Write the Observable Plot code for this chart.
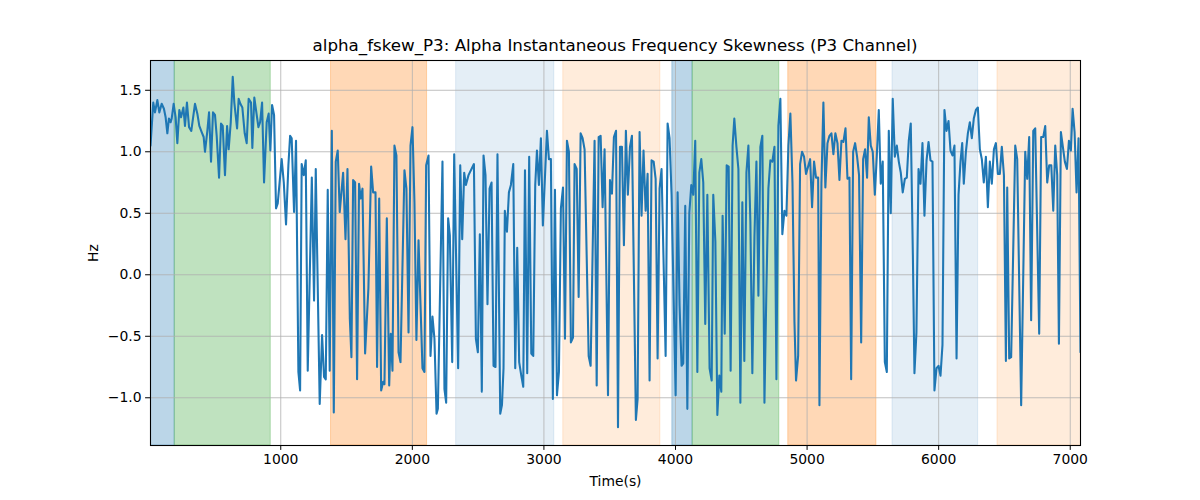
<!DOCTYPE html>
<html>
<head>
<meta charset="utf-8">
<script src="https://cdn.jsdelivr.net/npm/d3@7"></script>
<script src="https://cdn.jsdelivr.net/npm/@observablehq/plot@0.6"></script>
<style>
  html, body { margin: 0; padding: 0; background: white; }
  #title {
    box-sizing: border-box; height: 56px; width: 930px; margin-left: 150px;
    padding-top: 35px; line-height: 20px; text-align: center;
    font-family: "DejaVu Sans", sans-serif; font-size: 16.7px; color: #000;
    white-space: nowrap;
  }
</style>
</head>
<body>
<div id="title">alpha_fskew_P3: Alpha Instantaneous Frequency Skewness (P3 Channel)</div>
<div id="chart"></div>
<script>
// Time (s) of each sample
const times = [10,31,44,62,77,95,112,125,138,150,163,171,186,201,214,229,242,260,272,287,303,320,348,366,381,399,414,424,442,455,470,485,500,513,531,546,559,576,592,604,620,635,647,668,680,693,708,726,741,756,774,784,799,830,843,858,873,893,908,
921,934,949,964,977,1007,1023,1040,1058,1071,1083,1101,1116,1134,1147,1159,1175,1190,1205,1236,1253,1266,1296,1314,1329,1342,1357,1372,1388,1403,1418,1433,1448,1474,1492,1507,1525,1537,1550,1565,1580,1595,1608,1621,1641,1666,1687,1702,1720,1732,1748,1763,1778,1788,
1806,1824,1836,1849,1864,1879,1895,1910,1940,1955,1971,1986,2001,2016,2031,2047,2077,2092,2105,2123,2138,2153,2168,2184,2194,2229,2244,2257,2272,2285,2303,2318,2348,2364,2379,2394,2407,2427,2468,2483,2498,2513,2528,2541,2556,2571,2587,2602,2617,2632,2647,
2668,2681,2693,2703,2719,2734,2749,2767,2782,2797,2812,2828,2843,2856,2873,2888,2904,2919,2934,2947,2962,2977,2992,3023,3038,3053,3068,3084,3099,3114,3129,3145,3160,3175,3190,3205,3221,3233,3249,3264,3279,3294,3309,3340,3355,3385,3401,3416,3431,3446,3461,3487,3502,3517,3532,3548,3563,3578,
3593,3608,3623,3638,3654,3669,3699,3712,3727,3742,3757,3773,3788,3803,3818,3834,3849,3864,3879,3894,3925,3940,3955,3970,4001,4016,4031,4046,4059,4074,4090,4105,4120,4135,4150,4166,4181,4196,4211,4226,4242,4259,4275,4287,4303,4318,4333,4348,4358,4374,4389,4404,4419,4434,4447,
4463,4478,4493,4508,4523,4539,4554,4569,4584,4600,4615,4630,4645,4660,4676,4691,4706,4721,4736,4752,4767,4782,4797,4812,4828,4843,4858,4873,4889,4904,4916,4932,4947,4962,4977,4992,5008,5023,5038,5053,5068,5084,5094,5109,5124,5139,5155,5170,5185,5200,5215,5231,5246,5261,5276,5292,5307,
5322,5335,5350,5365,5380,5395,5411,5426,5441,5456,5469,5484,5499,5515,5530,5545,5560,5575,5591,5606,5621,5636,5651,5667,5682,5697,5712,5727,5743,5758,5773,5788,5804,5816,5831,5847,5862,5877,5892,5908,5923,5938,5953,5968,5984,5999,6014,6029,6044,6060,6075,6090,6105,6120,6136,6151,6166,6179,6191,
6207,6222,6237,6252,6267,6283,6298,6313,6328,6343,6359,6374,6389,6404,6420,6435,6450,6465,6480,6496,6511,6521,6536,6551,6582,6597,6627,6658,6673,6688,6703,6719,6734,6764,6779,6795,6810,6825,6840,6856,6871,6886,6901,6914,6929,6944,6959,6975,6990,7005,7018,7033,7048,7063,7078];

// Skewness (Hz) of each sample
const values = [1.05,1.40,1.32,1.42,1.32,1.39,1.35,1.28,1.15,1.27,1.24,1.27,1.39,1.28,1.07,1.34,1.28,1.36,1.21,1.40,1.20,1.17,1.39,1.31,1.21,1.16,1.12,1.00,1.17,1.32,0.92,1.32,1.30,1.13,0.79,1.23,1.21,0.81,1.21,1.02,1.24,1.61,1.40,1.19,1.43,1.39,1.36,1.15,1.07,1.43,1.40,1.03,1.44,1.20,1.24,1.40,0.75,1.24,1.31,
1.01,1.38,1.30,0.54,0.58,0.94,0.75,0.41,0.89,1.13,1.11,0.51,1.09,-0.79,-0.94,0.90,0.81,0.93,-0.78,0.79,-0.21,0.86,-1.05,-0.49,-0.83,-0.85,0.69,-0.78,1.17,-1.12,0.92,1.01,0.51,0.83,0.29,0.86,-0.36,-0.67,0.77,0.75,-0.85,0.74,0.62,0.70,-0.64,-0.11,0.88,0.67,0.67,-0.75,0.62,-0.94,-0.87,-0.89,
0.46,-0.90,-0.48,-0.78,1.05,0.97,-0.63,-0.71,0.85,0.70,-0.47,1.05,1.20,0.59,-0.53,0.28,-0.76,-0.79,0.89,0.97,-0.66,-0.34,-0.52,-1.13,-1.09,0.92,-0.93,-1.04,0.46,0.32,-0.71,0.98,-0.76,0.89,0.29,0.83,0.73,0.81,0.90,-0.52,-0.63,0.33,-0.95,0.97,0.81,-0.24,0.70,0.75,-0.74,-0.75,0.98,
-1.13,-1.06,-0.76,0.52,0.35,0.67,0.73,0.90,-0.76,0.22,-0.71,-0.82,-0.91,0.85,-0.80,0.96,-0.64,-0.66,0.73,1.01,0.73,1.11,0.40,1.17,0.94,0.94,-1.01,0.69,-0.98,-0.79,0.54,0.71,-0.52,1.09,1.00,-0.55,-0.51,0.90,0.86,-0.18,1.15,1.11,1.02,-0.66,-0.74,1.09,-0.90,1.12,1.13,0.55,1.02,-0.98,0.77,0.66,1.12,1.17,-1.24,1.04,
1.04,0.24,1.17,0.65,1.04,1.13,-1.18,-1.01,1.16,0.48,1.01,0.52,0.82,-0.86,0.93,0.92,0.78,-0.68,0.70,0.86,-0.66,1.23,1.11,0.65,-0.98,0.67,-0.25,-0.74,-0.72,0.56,-1.09,0.50,0.73,0.65,1.09,-0.79,0.83,0.94,0.75,-0.40,0.65,-0.76,-0.86,0.65,0.27,-1.14,-0.82,-0.95,0.48,-0.48,0.89,0.88,-0.78,1.05,1.27,
1.04,0.86,-1.04,0.59,-0.70,0.83,1.05,0.43,-0.80,0.31,0.92,-0.17,1.04,1.13,-1.04,-0.11,0.70,0.93,0.92,1.04,-0.85,1.21,1.43,0.33,0.52,0.48,1.05,1.31,0.75,-0.38,-0.86,-0.66,0.90,1.00,0.96,0.82,0.88,0.94,0.55,0.92,0.79,0.79,-1.06,0.74,1.40,0.71,1.07,1.13,1.15,0.98,1.15,1.07,0.77,1.09,1.08,1.19,0.78,
0.79,-0.85,1.00,1.07,0.96,0.81,-0.55,0.94,1.02,0.79,1.28,1.05,1.00,0.65,0.97,1.34,0.74,0.92,-0.71,-0.79,1.17,0.50,1.43,0.96,1.05,0.92,0.83,0.67,0.78,0.79,1.09,1.23,0.16,-0.80,-0.47,0.86,0.74,1.07,0.48,0.93,1.08,0.93,0.92,-0.94,-0.76,-0.74,-0.82,-0.57,1.34,1.17,1.25,1.01,0.97,1.05,-0.68,0.65,0.92,1.07,0.74,
1.00,1.15,1.24,1.11,1.27,1.34,1.36,1.02,0.94,0.75,0.96,0.55,0.92,0.74,1.02,1.07,0.82,0.82,1.04,0.81,-0.70,0.71,-0.68,-0.67,1.05,0.94,-1.06,1.00,0.78,1.12,-0.37,1.17,1.19,-0.48,1.12,1.12,1.21,0.75,0.89,0.89,0.52,1.05,0.81,-0.56,1.16,1.04,0.92,0.86,1.09,1.01,1.35,1.16,0.67,1.11,-0.63];

// Shaded segments
const bandStart = [0, 194, 1382, 2333, 3147, 3976, 4130, 4857, 5649, 6447];
const bandEnd   = [194, 924, 2112, 3079, 3885, 4130, 4789, 5527, 6300, 7200];
const bandColor = ["#1f77b4", "#2ca02c", "#ff7f0e", "#1f77b4", "#ff7f0e", "#1f77b4", "#2ca02c", "#ff7f0e", "#1f77b4", "#ff7f0e"];
const bandAlpha = [0.3, 0.3, 0.3, 0.12, 0.15, 0.3, 0.3, 0.3, 0.12, 0.15];

const xTicks = [1000, 2000, 3000, 4000, 5000, 6000, 7000];
const yTicks = [-1.0, -0.5, 0.0, 0.5, 1.0, 1.5];

const series = times.map((t, i) => ({t, v: values[i]}));
const bandMarks = bandStart.map((s, i) =>
  Plot.rect([{s, e: bandEnd[i]}], {
    x1: "s", x2: "e", fill: bandColor[i], fillOpacity: bandAlpha[i],
    stroke: bandColor[i], strokeOpacity: bandAlpha[i], strokeWidth: 1, clip: true
  })
);

const chart = Plot.plot({
  width: 1200, height: 444,
  marginLeft: 150, marginRight: 120, marginTop: 4, marginBottom: 55,
  x: {domain: [10, 7078]},
  y: {domain: [-1.388, 1.742]},
  style: {fontFamily: "DejaVu Sans", fontSize: "13.9px", background: "white", color: "black"},
  marks: [
    ...bandMarks,
    Plot.gridX(xTicks, {stroke: "#b0b0b0", strokeOpacity: 1, strokeWidth: 0.8}),
    Plot.gridY(yTicks, {stroke: "#b0b0b0", strokeOpacity: 1, strokeWidth: 0.8}),
    Plot.line(series, {x: "t", y: "v", stroke: "#1f77b4", strokeWidth: 2.08, strokeLinejoin: "round", clip: true}),
    Plot.frame({stroke: "black", strokeWidth: 1.1}),
    Plot.axisX(xTicks, {tickFormat: d3.format("d"), tickSize: 4.9, tickPadding: 4, label: null, fontSize: 13.9}),
    Plot.axisY(yTicks, {tickFormat: d3.format(".1f"), tickSize: 4.9, tickPadding: 4, label: null, fontSize: 13.9}),
    Plot.text(["Time(s)"], {text: d => d, frameAnchor: "bottom", dy: 36, fontSize: 13.9, textAnchor: "middle", lineAnchor: "middle"}),
    Plot.text(["Hz"], {text: d => d, frameAnchor: "left", dx: -57, rotate: -90, fontSize: 13.9, textAnchor: "middle", lineAnchor: "middle"})
  ]
});
document.getElementById("chart").appendChild(chart);
</script>
</body>
</html>
